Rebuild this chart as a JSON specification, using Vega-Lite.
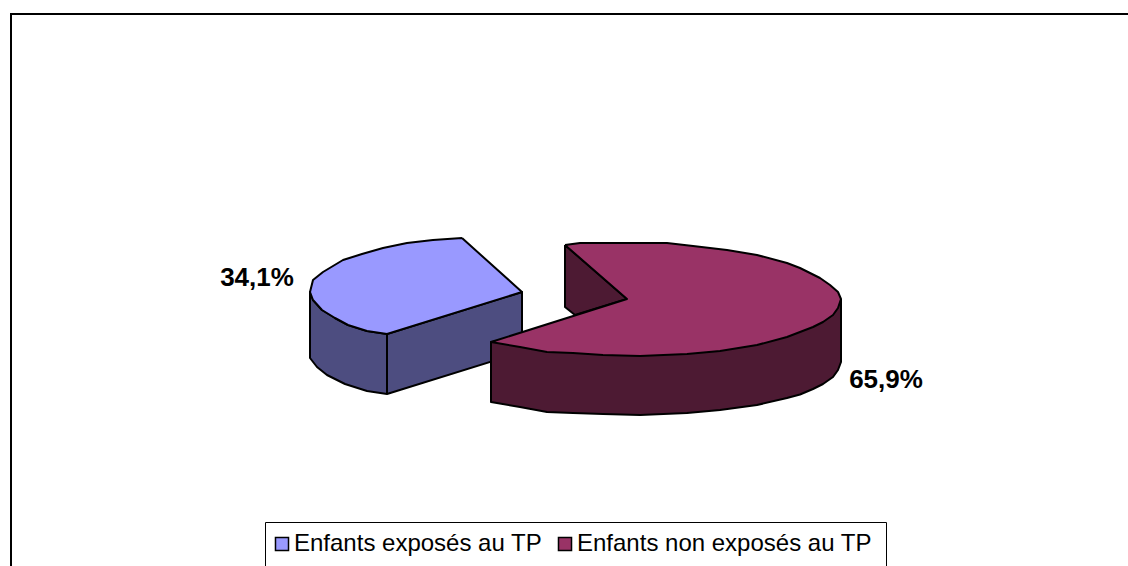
{"$schema":"https://vega.github.io/schema/vega-lite/v6.json","width":1128,"height":566,"padding":0,"autosize":"none","background":"white","config":{"view":{"stroke":null}},
"datasets":{"frame":[{"i":1,"x":1.1,"y":56.6},{"i":2,"x":1.1,"y":1.4},{"i":3,"x":112.8,"y":1.4}],
"faces":[
{"face":"Côté exposés","i":1,"x":31.0,"y":29.2},{"face":"Côté exposés","i":2,"x":31.3,"y":30.0},{"face":"Côté exposés","i":3,"x":32.2,"y":31.0},{"face":"Côté exposés","i":4,"x":33.5,"y":31.8},{"face":"Côté exposés","i":5,"x":34.8,"y":32.5},{"face":"Côté exposés","i":6,"x":36.7,"y":33.1},{"face":"Côté exposés","i":7,"x":38.7,"y":33.4},{"face":"Côté exposés","i":8,"x":52.2,"y":29.2},{"face":"Côté exposés","i":9,"x":52.2,"y":35.2},{"face":"Côté exposés","i":10,"x":38.7,"y":39.4},{"face":"Côté exposés","i":11,"x":36.7,"y":39.1},{"face":"Côté exposés","i":12,"x":34.5,"y":38.4},{"face":"Côté exposés","i":13,"x":32.7,"y":37.5},{"face":"Côté exposés","i":14,"x":31.7,"y":36.7},{"face":"Côté exposés","i":15,"x":31.0,"y":35.8},{"face":"Côté exposés","i":16,"x":31.0,"y":29.2},{"face":"Côté exposés","i":17,"x":38.7,"y":33.4},{"face":"Côté exposés","i":18,"x":38.7,"y":39.4},
{"face":"Enfants exposés au TP","i":1,"x":46.2,"y":23.8},{"face":"Enfants exposés au TP","i":2,"x":52.2,"y":29.2},{"face":"Enfants exposés au TP","i":3,"x":38.7,"y":33.4},{"face":"Enfants exposés au TP","i":4,"x":36.7,"y":33.1},{"face":"Enfants exposés au TP","i":5,"x":34.8,"y":32.5},{"face":"Enfants exposés au TP","i":6,"x":33.5,"y":31.8},{"face":"Enfants exposés au TP","i":7,"x":32.2,"y":31.0},{"face":"Enfants exposés au TP","i":8,"x":31.3,"y":30.0},{"face":"Enfants exposés au TP","i":9,"x":31.0,"y":29.2},{"face":"Enfants exposés au TP","i":10,"x":31.3,"y":28.0},{"face":"Enfants exposés au TP","i":11,"x":32.3,"y":27.2},{"face":"Enfants exposés au TP","i":12,"x":34.3,"y":26.0},{"face":"Enfants exposés au TP","i":13,"x":36.2,"y":25.4},{"face":"Enfants exposés au TP","i":14,"x":38.3,"y":24.8},{"face":"Enfants exposés au TP","i":15,"x":40.7,"y":24.3},{"face":"Enfants exposés au TP","i":16,"x":43.3,"y":24.0},{"face":"Enfants exposés au TP","i":17,"x":46.2,"y":23.8},
{"face":"Intérieur non exposés","i":1,"x":56.5,"y":24.5},{"face":"Intérieur non exposés","i":2,"x":56.5,"y":30.7},{"face":"Intérieur non exposés","i":3,"x":57.5,"y":31.5},{"face":"Intérieur non exposés","i":4,"x":62.7,"y":29.9},{"face":"Intérieur non exposés","i":5,"x":56.5,"y":24.5},
{"face":"Côté non exposés","i":1,"x":84.1,"y":29.9},{"face":"Côté non exposés","i":2,"x":84.1,"y":36.2},{"face":"Côté non exposés","i":3,"x":83.8,"y":37.0},{"face":"Côté non exposés","i":4,"x":83.3,"y":37.7},{"face":"Côté non exposés","i":5,"x":82.3,"y":38.4},{"face":"Côté non exposés","i":6,"x":81.3,"y":38.9},{"face":"Côté non exposés","i":7,"x":80.0,"y":39.45},{"face":"Côté non exposés","i":8,"x":78.7,"y":39.8},{"face":"Côté non exposés","i":9,"x":75.7,"y":40.5},{"face":"Côté non exposés","i":10,"x":72.0,"y":41.0},{"face":"Côté non exposés","i":11,"x":68.7,"y":41.3},{"face":"Côté non exposés","i":12,"x":64.0,"y":41.5},{"face":"Côté non exposés","i":13,"x":60.3,"y":41.4},{"face":"Côté non exposés","i":14,"x":57.3,"y":41.3},{"face":"Côté non exposés","i":15,"x":54.7,"y":41.2},{"face":"Côté non exposés","i":16,"x":52.0,"y":40.7},{"face":"Côté non exposés","i":17,"x":49.1,"y":40.2},{"face":"Côté non exposés","i":18,"x":49.1,"y":34.2},{"face":"Côté non exposés","i":19,"x":84.1,"y":29.9},
{"face":"Enfants non exposés au TP","i":1,"x":56.5,"y":24.5},{"face":"Enfants non exposés au TP","i":2,"x":58.0,"y":24.3},{"face":"Enfants non exposés au TP","i":3,"x":62.0,"y":24.3},{"face":"Enfants non exposés au TP","i":4,"x":66.7,"y":24.3},{"face":"Enfants non exposés au TP","i":5,"x":69.3,"y":24.6},{"face":"Enfants non exposés au TP","i":6,"x":72.7,"y":25.0},{"face":"Enfants non exposés au TP","i":7,"x":75.7,"y":25.5},{"face":"Enfants non exposés au TP","i":8,"x":78.7,"y":26.3},{"face":"Enfants non exposés au TP","i":9,"x":80.0,"y":26.8},{"face":"Enfants non exposés au TP","i":10,"x":81.0,"y":27.3},{"face":"Enfants non exposés au TP","i":11,"x":82.0,"y":27.8},{"face":"Enfants non exposés au TP","i":12,"x":83.0,"y":28.5},{"face":"Enfants non exposés au TP","i":13,"x":83.8,"y":29.2},{"face":"Enfants non exposés au TP","i":14,"x":84.1,"y":29.9},{"face":"Enfants non exposés au TP","i":15,"x":83.8,"y":30.8},{"face":"Enfants non exposés au TP","i":16,"x":83.3,"y":31.5},{"face":"Enfants non exposés au TP","i":17,"x":82.3,"y":32.2},{"face":"Enfants non exposés au TP","i":18,"x":81.3,"y":32.7},{"face":"Enfants non exposés au TP","i":19,"x":80.0,"y":33.2},{"face":"Enfants non exposés au TP","i":20,"x":78.7,"y":33.7},{"face":"Enfants non exposés au TP","i":21,"x":75.7,"y":34.5},{"face":"Enfants non exposés au TP","i":22,"x":72.0,"y":35.1},{"face":"Enfants non exposés au TP","i":23,"x":68.7,"y":35.4},{"face":"Enfants non exposés au TP","i":24,"x":64.0,"y":35.6},{"face":"Enfants non exposés au TP","i":25,"x":60.3,"y":35.5},{"face":"Enfants non exposés au TP","i":26,"x":57.3,"y":35.3},{"face":"Enfants non exposés au TP","i":27,"x":54.7,"y":35.2},{"face":"Enfants non exposés au TP","i":28,"x":52.0,"y":34.7},{"face":"Enfants non exposés au TP","i":29,"x":49.1,"y":34.2},{"face":"Enfants non exposés au TP","i":30,"x":62.7,"y":29.9},{"face":"Enfants non exposés au TP","i":31,"x":56.5,"y":24.5}],
"labels":[{"x":25.7,"y":27.8,"label":"34,1%"},{"x":88.6,"y":38.0,"label":"65,9%"}]},
"encoding":{"x":{"field":"x","type":"quantitative","scale":{"domain":[0,112.8]},"axis":null},"y":{"field":"y","type":"quantitative","scale":{"domain":[0,56.6],"reverse":true},"axis":null}},
"layer":[
{"data":{"name":"frame"},"mark":{"type":"line","stroke":"black","strokeWidth":2,"strokeCap":"square"},"encoding":{"order":{"field":"i","type":"quantitative"}}},
{"data":{"name":"faces"},"mark":{"type":"line","filled":true,"stroke":"black","strokeWidth":2,"strokeJoin":"round"},"encoding":{"order":{"field":"i","type":"quantitative"},"fill":{"field":"face","type":"nominal","scale":{"domain":["Enfants exposés au TP","Enfants non exposés au TP","Côté exposés","Intérieur non exposés","Côté non exposés"],"range":["#9999FF","#993366","#4D4D80","#4D1A33","#4D1A33"]},"legend":{"title":" ","titleOrient":"right","titlePadding":4,"orient":"none","legendX":265,"legendY":522,"direction":"horizontal","values":["Enfants exposés au TP","Enfants non exposés au TP"],"symbolType":"square","symbolSize":170,"symbolOffset":-5,"symbolStrokeColor":"black","symbolStrokeWidth":1.5,"labelFont":"Liberation Sans","labelFontSize":24,"labelColor":"black","labelLimit":400,"labelOffset":0,"columnPadding":12,"strokeColor":"black","fillColor":"white","padding":10,"symbolOpacity":1}},"detail":{"field":"face"}}},
{"data":{"name":"labels"},"mark":{"type":"text","font":"Liberation Sans","fontWeight":"bold","fontSize":26,"align":"center","baseline":"middle","color":"black"},"encoding":{"text":{"field":"label"}}}
]}
